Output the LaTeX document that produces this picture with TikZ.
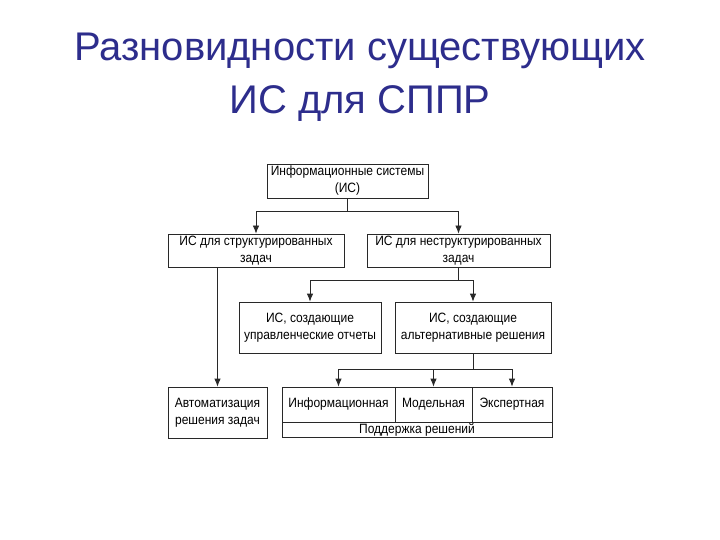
\documentclass[tikz,border=0pt]{standalone}
\usepackage{fontspec}
\setmainfont{Liberation Sans}
\newfontfamily\boxfont[FakeStretch=0.89]{Liberation Sans}
\usetikzlibrary{arrows,arrows.meta,positioning}
\definecolor{titleblue}{RGB}{45,45,140}
\definecolor{linegray}{RGB}{40,40,40}
\tikzset{
  box/.style={draw=linegray,line width=0.8pt,align=center,inner sep=1pt,
    font=\boxfont\fontsize{13.5}{17}\selectfont},
  link/.style={draw=linegray,line width=0.8pt,-{Latex[length=8pt,width=6.5pt]}}
}
\begin{document}
\begin{tikzpicture}[x=1pt,y=-1pt]
   \useasboundingbox (0,0) rectangle (720,540);
   \node[titleblue,align=center,font=\fontsize{40}{53}\selectfont] (title) at (360,77)
     {Разновидности существующих\\ИС для СППР};
   % upper levels
   \node[box,minimum width=161pt,minimum height=34pt] (is) at (347.5,181)
     {Информационные системы\\(ИС)};
   \node[box,minimum width=176pt,minimum height=33pt] (struct) at (256,250.5)
     {ИС для структурированных\\задач};
   \node[box,minimum width=183pt,minimum height=33pt] (unstruct) at (458.5,250.5)
     {ИС для неструктурированных\\задач};
   \node[box,minimum width=142pt,minimum height=51pt] (reports) at (310,327.5)
     {ИС, создающие\\управленческие отчеты};
   \node[box,minimum width=156pt,minimum height=51pt] (alt) at (473,327.5)
     {ИС, создающие\\альтернативные решения};
   % bottom level
   \node[box,minimum width=99pt,minimum height=51pt] (auto) at (217.5,412.5)
     {Автоматизация\\решения задач};
   \node[box,minimum width=113pt,minimum height=35pt] (info) at (338.5,404.5)
     {Информационная};
   \node[box,minimum width=77pt,minimum height=35pt] (model) at (433.5,404.5)
     {Модельная};
   \node[box,minimum width=80pt,minimum height=35pt] (expert) at (512,404.5)
     {Экспертная};
   \node[box,minimum width=270pt,minimum height=15pt,inner sep=0pt] (support) at (417,429.5)
     {Поддержка решений};
   % connectors
   \draw[link] (is.south) -- ++(0,13) -| (struct.north);
   \draw[link] (is.south) -- ++(0,13) -| (unstruct.north);
   \draw[link] (unstruct.south) -- ++(0,13) -| (reports.north);
   \draw[link] (unstruct.south) -- ++(0,13) -| (alt.north);
   \draw[link] (alt.south) -- ++(0,16) -| (info.north);
   \draw[link] (alt.south) -- ++(0,16) -| (model.north);
   \draw[link] (alt.south) -- ++(0,16) -| (expert.north);
   \draw[link] (auto.north |- struct.south) -- (auto.north);
\end{tikzpicture}
\end{document}
